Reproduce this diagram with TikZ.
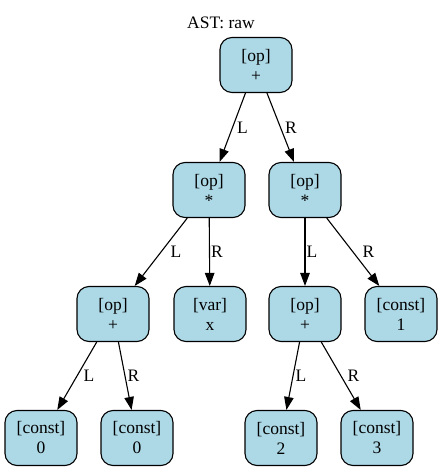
\documentclass[tikz,border=0pt]{standalone}
\usepackage{fontspec}
\setmainfont{Liberation Serif}
\usetikzlibrary{arrows.meta}
\definecolor{gvblue}{HTML}{ADD8E6}
\tikzset{
  astnode/.style={draw=black, fill=gvblue, line width=1.1pt, rounded corners=12pt,
    minimum width=72pt, minimum height=55pt, inner sep=0pt, align=center,
    font=\fontsize{17.5}{20}\selectfont},
  edge/.style={draw=black, line width=1.1pt, -{Triangle[length=13pt,width=9.5pt]}},
  lbl/.style={anchor=west, inner sep=0pt, font=\fontsize{17.5}{20}\selectfont},
}
\begin{document}
\begin{tikzpicture}[x=1pt,y=-1pt]
\useasboundingbox (0,0) rectangle (443,472);
\node[font=\fontsize{17.5}{20}\selectfont] (title) at (221,23) {AST: raw};
\node[astnode] (r) at (256,65) {[op]\\+};
\node[astnode] (a) at (209,190) {[op]\\*};
\node[astnode] (b) at (305,190) {[op]\\*};
\node[astnode] (c) at (113,314) {[op]\\+};
\node[astnode] (d) at (210,314) {[var]\\x};
\node[astnode] (e) at (305,314) {[op]\\+};
\node[astnode] (f) at (401,314) {[const]\\1};
\node[astnode] (g) at (41,438) {[const]\\0};
\node[astnode] (h) at (137,438) {[const]\\0};
\node[astnode] (i) at (281,438) {[const]\\2};
\node[astnode] (j) at (377,438) {[const]\\3};
\draw[edge] (r) -- node[lbl, xshift=4pt] {L} (a);
\draw[edge] (r) -- node[lbl, xshift=4pt] {R} (b);
\draw[edge] (a) -- node[lbl, xshift=9pt] {L} (c);
\draw[edge] (a) -- node[lbl, xshift=1pt] {R} (d);
\draw[edge] (b) -- node[lbl, xshift=1pt] {L} (e);
\draw[edge] (b) -- node[lbl, xshift=9pt] {R} (f);
\draw[edge] (c) -- node[lbl, xshift=6pt] {L} (g);
\draw[edge] (c) -- node[lbl, xshift=2pt] {R} (h);
\draw[edge] (e) -- node[lbl, xshift=2pt] {L} (i);
\draw[edge] (e) -- node[lbl, xshift=6pt] {R} (j);
\end{tikzpicture}
\end{document}
